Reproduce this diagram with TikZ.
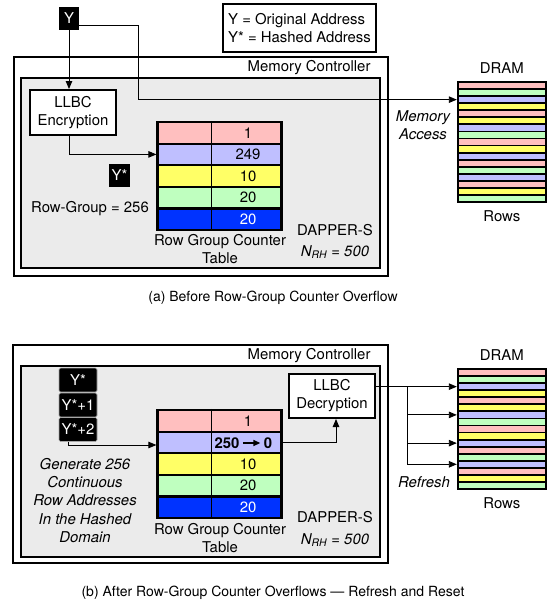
\documentclass[tikz,border=0pt]{standalone}
\usepackage{fontspec}
\setmainfont{TeX Gyre Heros}
\usepackage{xcolor}
\definecolor{rowpink}{HTML}{FFBFBF}
\definecolor{rowlav}{HTML}{BFBFFF}
\definecolor{rowyel}{HTML}{FFFF66}
\definecolor{rowgrn}{HTML}{BFFFBF}
\definecolor{rowblu}{HTML}{0033FF}
\definecolor{ctrlgray}{HTML}{EBEBEB}
\usepackage{tikz}
\usetikzlibrary{
  arrows.meta,
  positioning,
  calc
}

\begin{document}
\begin{tikzpicture}[
  x=1pt, y=-1pt,
  font=\fontsize{14.9pt}{18pt}\selectfont,
  outerbox/.style={rectangle, draw, line width=2pt, fill=white, inner sep=0pt},
  innerbox/.style={rectangle, draw, line width=2pt, fill=ctrlgray, inner sep=0pt, minimum width=359pt},
  llbc/.style={rectangle, draw, line width=2pt, fill=white, align=center, inner sep=0pt, minimum width=86pt, minimum height=44pt},
  addr/.style={rectangle, fill=black, text=white, inner sep=0pt, minimum height=23pt},
  addrstack/.style={addr, draw=gray!70, line width=0.6pt, rounded corners=1.5pt, minimum width=38pt, minimum height=24pt},
  rowcell/.style={rectangle, draw, line width=2.2pt, inner sep=0pt, minimum width=124pt, minimum height=21.6pt},
  stripe/.style={rectangle, draw, line width=1.8pt, inner sep=0pt, minimum width=88.3pt, minimum height=7.06pt},
  drambox/.style={rectangle, draw, line width=2.2pt, inner sep=0pt, minimum width=88.3pt, minimum height=120pt},
  arr/.style={-{Triangle[length=8pt, width=6.5pt]}, line width=0.9pt},
  lbl/.style={align=center},
  note/.style={align=center, font=\fontsize{14.9pt}{18.2pt}\selectfont\itshape},
  caption/.style={font=\fontsize{14pt}{17pt}\selectfont},
]
\useasboundingbox (0,0) rectangle (547,605);

% (a) before overflow
\node[outerbox, minimum width=374pt, minimum height=219pt] (mcA) at (201,166.5) {};
\node[innerbox, minimum height=190pt] (dapA) at (200.5,173) {};
\node[anchor=east] (mcAlbl) at (374,68) {Memory Controller};

\node[addr, minimum width=20pt] (yA) at (69,18.5) {Y};
\node[rectangle, draw, line width=2pt, align=left, inner sep=0pt, minimum width=153pt, minimum height=48pt] (legend) at (299.5,28) {Y = Original Address\\Y* = Hashed Address};

\node[llbc, minimum height=45pt] (enc) at (73,112.5) {LLBC\\Encryption};
\node[addr, minimum width=21pt] (ystarA) at (119.5,175.5) {Y*};
\node (rgA) at (90,209) {Row-Group = 256};

\foreach \c/\v [count=\i] in {rowpink/1, rowlav/249, rowyel/10, rowgrn/20, rowblu/{\color{white}20}} {
  \node[rowcell, fill=\c] (rowA-\i) at (219.5,{122+(\i-0.5)*21.6}) {};
  \node (valA-\i) at ($(rowA-\i.east)+(-34.5,0)$) {\v};
}
\draw[line width=0.8pt] ($(rowA-1.north west)+(55,0)$) -- ($(rowA-5.south west)+(55,0)$);
\node[lbl] (tblA) at (220,249.5) {Row Group Counter\\Table};
\node (dapsA) at (335,230) {DAPPER-S};
\node (nrhA) at (335,252) {\itshape N\textsubscript{RH} = 500};

\foreach \c [count=\i] in {rowpink,rowgrn,rowlav,rowyel,rowpink,rowyel,rowlav,rowgrn,rowpink,rowyel,rowlav,rowpink,rowgrn,rowlav,rowpink,rowyel,rowgrn}
  \node[stripe, fill=\c] (stripeA-\i) at (501.85,{82+(\i-0.5)*7.06}) {};
\node[drambox] (dramA) at (501.85,142) {};
\node[above=4pt of dramA] (dramAlbl) {DRAM};
\node[below=4pt of dramA] (rowsA) {Rows};
\node[note] (access) at (423,125.5) {Memory\\Access};

\draw[arr] (yA.south) -- (yA.south |- enc.north);
\draw[arr] (enc.south -| yA) |- (rowA-2.west);
\coordinate (bendA) at (138,0);
\draw[arr] ([yshift=-6.5pt]yA.east) -| (bendA |- stripeA-3.west) -- (stripeA-3.west);

\node[caption] (capA) at (273,298) {(a) Before Row-Group Counter Overflow};

% (b) after overflow
\node[outerbox, minimum width=375pt, minimum height=218pt] (mcB) at (200.5,454) {};
\node[innerbox, minimum height=191pt] (dapB) at (200.5,461.5) {};
\node[anchor=east] (mcBlbl) at (374,356) {Memory Controller};

\node[addrstack] (ys0) at (78,380) {Y*};
\node[addrstack] (ys1) at (78,405) {Y*+1};
\node[addrstack] (ys2) at (78,429.5) {Y*+2};
\node[note] (gen) at (85,500.5) {Generate 256\\Continuous\\Row Addresses\\In the Hashed\\Domain};

\foreach \c [count=\i] in {rowpink, rowlav, rowyel, rowgrn, rowblu}
  \node[rowcell, fill=\c] (rowB-\i) at (219.5,{410+(\i-0.5)*21.6}) {};
\draw[line width=0.8pt] ($(rowB-1.north west)+(55,0)$) -- ($(rowB-5.south west)+(55,0)$);
\node (valB-1) at ($(rowB-1.east)+(-34.5,0)$) {1};
\node[font=\fontsize{14.9pt}{18pt}\selectfont\bfseries] (old) at (227,443) {250};
\node[font=\fontsize{14.9pt}{18pt}\selectfont\bfseries] (new) at (268,443) {0};
\draw[-{Triangle[length=7pt, width=6pt]}, line width=1.4pt] (old.east) -- (new.west);
\node (valB-3) at ($(rowB-3.east)+(-34.5,0)$) {10};
\node (valB-4) at ($(rowB-4.east)+(-34.5,0)$) {20};
\node[text=white] (valB-5) at ($(rowB-5.east)+(-34.5,0)$) {20};
\node[lbl] (tblB) at (220,538) {Row Group Counter\\Table};
\node (dapsB) at (335,517) {DAPPER-S};
\node (nrhB) at (335,540) {\itshape N\textsubscript{RH} = 500};

\node[llbc] (dec) at (332,396) {LLBC\\Decryption};

\foreach \c [count=\i] in {rowpink,rowgrn,rowlav,rowyel,rowpink,rowyel,rowlav,rowgrn,rowpink,rowyel,rowlav,rowpink,rowgrn,rowlav,rowpink,rowyel,rowgrn}
  \node[stripe, fill=\c] (stripeB-\i) at (501.85,{369+(\i-0.5)*7.06}) {};
\node[drambox] (dramB) at (501.85,429) {};
\node[above=4pt of dramB] (dramBlbl) {DRAM};
\node[below=4pt of dramB] (rowsB) {Rows};
\node[note] (refresh) at (424,482) {Refresh};

\coordinate (genTurn) at (68,445);
\draw[arr] (ys2.south -| genTurn) -- (genTurn) -- (genTurn -| rowB-2.west);
\draw[arr] (rowB-2.east) -| ([xshift=4pt]dec.south);
\coordinate (fork) at (407,0);
\draw[arr] (dec.east |- stripeB-3.west) -- (stripeB-3.west);
\draw[line width=0.9pt] (fork |- stripeB-3) -- (fork |- stripeB-14);
\foreach \k in {7,11,14}
  \draw[arr] (fork |- stripeB-\k.west) -- (stripeB-\k.west);

\node[caption] (capB) at (273,593) {(b) After Row-Group Counter Overflows — Refresh and Reset};

\end{tikzpicture}
\end{document}
